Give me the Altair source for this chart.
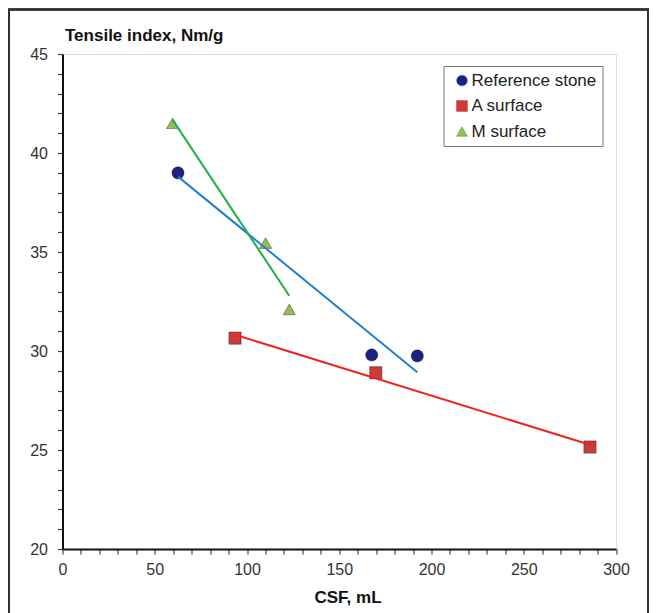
import altair as alt
import pandas as pd

series_names = ["Reference stone", "A surface", "M surface"]
ref_x = [62.6, 167.6, 192.3]
ref_y = [39.0, 29.8, 29.75]
a_x = [93.5, 169.8, 285.9]
a_y = [30.65, 28.9, 25.15]
m_x = [59.7, 110.1, 122.9]
m_y = [41.5, 35.45, 32.1]

marker_fill = ["#1f1f85", "#c83c3c", "#9bbb59"]
marker_shape = ["circle", "square", "triangle-up"]
line_colors = ["#2080d0", "#ee2222", "#22b04a"]

x_ticks = list(range(0, 301, 10))
y_ticks = list(range(20, 46, 1))

rows = []
for name, xs, ys in zip(series_names, [ref_x, a_x, m_x], [ref_y, a_y, m_y]):
    for xv, yv in zip(xs, ys):
        rows.append({"series": name, "csf": xv, "tensile": yv})
df = pd.DataFrame(rows)

FONT = "Liberation Sans"

x_enc = alt.X(
    "csf:Q",
    scale=alt.Scale(domain=[0, 300], nice=False, zero=False),
    axis=alt.Axis(
        values=x_ticks,
        labelExpr="datum.value % 50 == 0 ? datum.label : ''",
        title="CSF, mL",
        titleX=285, titleY=53, titleAlign="center", titleBaseline="alphabetic",
        titleFont=FONT, titleFontSize=17, titleFontWeight="bold", titleColor="#111",
        labelFont=FONT, labelFontSize=16, labelColor="#333", labelPadding=7,
        tickSize=5, tickColor="#444", tickWidth=1.2,
        domainColor="#111", domainWidth=2,
        grid=False, labelOverlap=False, labelFlush=False,
    ),
)
y_enc = alt.Y(
    "tensile:Q",
    scale=alt.Scale(domain=[20, 45], nice=False, zero=False),
    axis=alt.Axis(
        values=y_ticks,
        labelExpr="datum.value % 5 == 0 ? datum.label : ''",
        title="Tensile index, Nm/g",
        titleAngle=0, titleX=2, titleY=-14, titleAlign="left", titleBaseline="alphabetic",
        titleFont=FONT, titleFontSize=17, titleFontWeight="bold", titleColor="#111",
        labelFont=FONT, labelFontSize=16, labelColor="#333", labelPadding=10,
        tickSize=5, tickColor="#444", tickWidth=1.2,
        domainColor="#111", domainWidth=2,
        grid=False, labelOverlap=False,
    ),
)

legend = alt.Legend(title=None, orient="none", legendX=381, legendY=12,
                    labelFont=FONT, labelFontSize=17, labelColor="#222",
                    symbolSize=115, rowPadding=7.5, padding=6,
                    strokeColor="#777", fillColor="white",
                    labelOffset=1, symbolOffset=4,
                    symbolStrokeColor="#333", symbolStrokeWidth=0.6)

base = alt.Chart(df)

frame = base.mark_rect(fill="transparent", stroke="#333", strokeWidth=1.5).encode(
    x=alt.value(-53.5), x2=alt.value(585.5), y=alt.value(-44.5), y2=alt.value(600)
)

points = base.mark_point(filled=True, opacity=1, size=150, stroke="#000",
                         strokeOpacity=0.35, strokeWidth=1).encode(
    x=x_enc,
    y=y_enc,
    color=alt.Color("series:N", scale=alt.Scale(domain=series_names, range=marker_fill), legend=legend),
    shape=alt.Shape("series:N", scale=alt.Scale(domain=series_names, range=marker_shape), legend=legend),
)

lines = base.transform_regression("csf", "tensile", groupby=["series"]).mark_line(strokeWidth=2).encode(
    x=x_enc,
    y=y_enc,
    stroke=alt.Stroke("series:N", scale=alt.Scale(domain=series_names, range=line_colors), legend=None),
)

chart = alt.layer(frame, points, lines).properties(
    width=553.5,
    height=495,
    autosize=alt.AutoSizeParams(type="none"),
    padding={"left": 62.5, "top": 54, "right": 43, "bottom": 64},
).configure_view(stroke="#111", strokeWidth=2).configure(background="white")

chart.save("out.html", embed_options={"renderer": "svg", "actions": False})
